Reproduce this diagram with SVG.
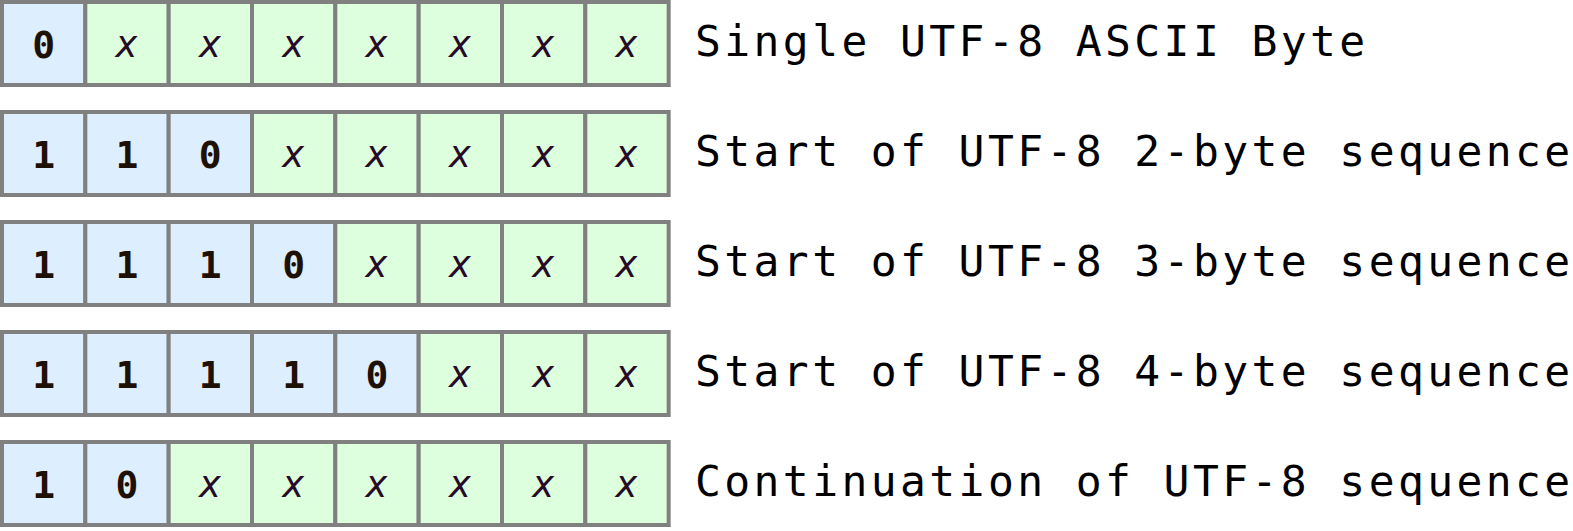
<svg xmlns="http://www.w3.org/2000/svg" width="1573" height="531" viewBox="0 0 1573 531">
<style>
rect{stroke:#808080;stroke-width:4}
.b{fill:#ddeeff}
.g{fill:#ddffdd}
.d{font-family:"DejaVu Sans Mono",monospace;font-weight:bold;font-size:38px;fill:#1e1004;text-anchor:middle}
.x{font-family:"DejaVu Sans Mono",monospace;font-style:italic;font-size:37px;fill:#260a26;text-anchor:middle}
.l{font-family:"DejaVu Sans Mono",monospace;font-size:43px;letter-spacing:3.4px;fill:#000}
</style>
<rect width="1573" height="531" fill="#fff" style="stroke:none"/>
<g id="row1">
<rect class="b" x="2" y="2" width="83.33" height="83"/>
<rect class="g" x="85.33" y="2" width="83.33" height="83"/>
<rect class="g" x="168.67" y="2" width="83.33" height="83"/>
<rect class="g" x="252" y="2" width="83.33" height="83"/>
<rect class="g" x="335.33" y="2" width="83.33" height="83"/>
<rect class="g" x="418.67" y="2" width="83.33" height="83"/>
<rect class="g" x="502" y="2" width="83.33" height="83"/>
<rect class="g" x="585.33" y="2" width="83.33" height="83"/>
<text class="d" x="43.7" y="58">0</text>
<text class="x" x="127" y="57">x</text>
<text class="x" x="210.3" y="57">x</text>
<text class="x" x="293.7" y="57">x</text>
<text class="x" x="377" y="57">x</text>
<text class="x" x="460.3" y="57">x</text>
<text class="x" x="543.7" y="57">x</text>
<text class="x" x="627" y="57">x</text>
<text class="l" x="695" y="56">Single UTF-8 ASCII Byte</text>
</g>
<g id="row2">
<rect class="b" x="2" y="112" width="83.33" height="83"/>
<rect class="b" x="85.33" y="112" width="83.33" height="83"/>
<rect class="b" x="168.67" y="112" width="83.33" height="83"/>
<rect class="g" x="252" y="112" width="83.33" height="83"/>
<rect class="g" x="335.33" y="112" width="83.33" height="83"/>
<rect class="g" x="418.67" y="112" width="83.33" height="83"/>
<rect class="g" x="502" y="112" width="83.33" height="83"/>
<rect class="g" x="585.33" y="112" width="83.33" height="83"/>
<text class="d" x="43.7" y="168">1</text>
<text class="d" x="127" y="168">1</text>
<text class="d" x="210.3" y="168">0</text>
<text class="x" x="293.7" y="167">x</text>
<text class="x" x="377" y="167">x</text>
<text class="x" x="460.3" y="167">x</text>
<text class="x" x="543.7" y="167">x</text>
<text class="x" x="627" y="167">x</text>
<text class="l" x="695" y="166">Start of UTF-8 2-byte sequence</text>
</g>
<g id="row3">
<rect class="b" x="2" y="222" width="83.33" height="83"/>
<rect class="b" x="85.33" y="222" width="83.33" height="83"/>
<rect class="b" x="168.67" y="222" width="83.33" height="83"/>
<rect class="b" x="252" y="222" width="83.33" height="83"/>
<rect class="g" x="335.33" y="222" width="83.33" height="83"/>
<rect class="g" x="418.67" y="222" width="83.33" height="83"/>
<rect class="g" x="502" y="222" width="83.33" height="83"/>
<rect class="g" x="585.33" y="222" width="83.33" height="83"/>
<text class="d" x="43.7" y="278">1</text>
<text class="d" x="127" y="278">1</text>
<text class="d" x="210.3" y="278">1</text>
<text class="d" x="293.7" y="278">0</text>
<text class="x" x="377" y="277">x</text>
<text class="x" x="460.3" y="277">x</text>
<text class="x" x="543.7" y="277">x</text>
<text class="x" x="627" y="277">x</text>
<text class="l" x="695" y="276">Start of UTF-8 3-byte sequence</text>
</g>
<g id="row4">
<rect class="b" x="2" y="332" width="83.33" height="83"/>
<rect class="b" x="85.33" y="332" width="83.33" height="83"/>
<rect class="b" x="168.67" y="332" width="83.33" height="83"/>
<rect class="b" x="252" y="332" width="83.33" height="83"/>
<rect class="b" x="335.33" y="332" width="83.33" height="83"/>
<rect class="g" x="418.67" y="332" width="83.33" height="83"/>
<rect class="g" x="502" y="332" width="83.33" height="83"/>
<rect class="g" x="585.33" y="332" width="83.33" height="83"/>
<text class="d" x="43.7" y="388">1</text>
<text class="d" x="127" y="388">1</text>
<text class="d" x="210.3" y="388">1</text>
<text class="d" x="293.7" y="388">1</text>
<text class="d" x="377" y="388">0</text>
<text class="x" x="460.3" y="387">x</text>
<text class="x" x="543.7" y="387">x</text>
<text class="x" x="627" y="387">x</text>
<text class="l" x="695" y="386">Start of UTF-8 4-byte sequence</text>
</g>
<g id="row5">
<rect class="b" x="2" y="442" width="83.33" height="83"/>
<rect class="b" x="85.33" y="442" width="83.33" height="83"/>
<rect class="g" x="168.67" y="442" width="83.33" height="83"/>
<rect class="g" x="252" y="442" width="83.33" height="83"/>
<rect class="g" x="335.33" y="442" width="83.33" height="83"/>
<rect class="g" x="418.67" y="442" width="83.33" height="83"/>
<rect class="g" x="502" y="442" width="83.33" height="83"/>
<rect class="g" x="585.33" y="442" width="83.33" height="83"/>
<text class="d" x="43.7" y="498">1</text>
<text class="d" x="127" y="498">0</text>
<text class="x" x="210.3" y="497">x</text>
<text class="x" x="293.7" y="497">x</text>
<text class="x" x="377" y="497">x</text>
<text class="x" x="460.3" y="497">x</text>
<text class="x" x="543.7" y="497">x</text>
<text class="x" x="627" y="497">x</text>
<text class="l" x="695" y="496">Continuation of UTF-8 sequence</text>
</g>
<g id="connectors"/>
</svg>
